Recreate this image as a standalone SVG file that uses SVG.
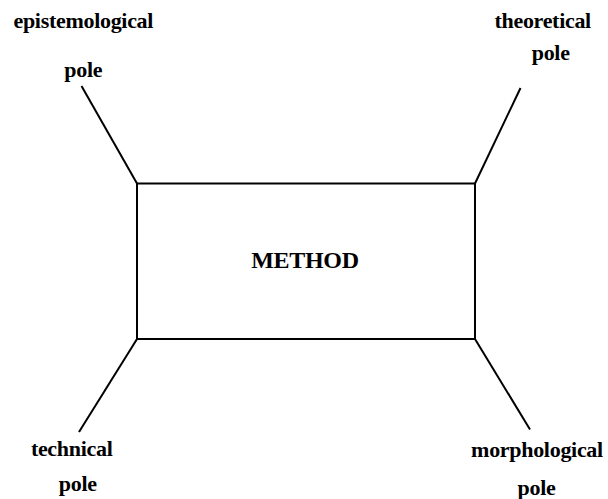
<svg xmlns="http://www.w3.org/2000/svg" width="608" height="499" viewBox="0 0 608 499">
<style>
text{font-family:"Liberation Serif","Times New Roman",serif;font-weight:bold;font-size:22px;fill:#000;text-anchor:middle;letter-spacing:-0.3px}
.c{stroke:#000;stroke-width:2;fill:none}
</style>
<rect width="608" height="499" fill="#fff"/>
<g id="connectors">
<line class="c" x1="81.5" y1="86" x2="137" y2="183.5"/>
<line class="c" x1="520.5" y1="88" x2="475" y2="183.5"/>
<line class="c" x1="79" y1="432" x2="137" y2="339"/>
<line class="c" x1="530" y1="429.5" x2="475" y2="339"/>
</g>
<g id="method">
<rect class="c" x="137" y="183.5" width="338" height="155.5"/>
<text x="305" y="267.5" style="font-size:24px">METHOD</text>
</g>
<g id="epistemological">
<text x="83.3" y="28.3">epistemological</text>
<text x="83.3" y="77">pole</text>
</g>
<g id="theoretical">
<text x="542.7" y="28.3">theoretical</text>
<text x="550.7" y="60">pole</text>
</g>
<g id="technical">
<text x="71.7" y="456">technical</text>
<text x="77.8" y="490.7">pole</text>
</g>
<g id="morphological">
<text x="537" y="456.7">morphological</text>
<text x="536.5" y="495">pole</text>
</g>
</svg>
